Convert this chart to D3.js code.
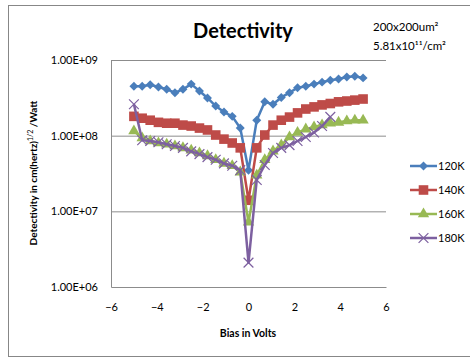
<!DOCTYPE html>
<html>
<head>
<meta charset="utf-8">
<script src="https://cdn.jsdelivr.net/npm/d3@7"></script>
<style>
	body { margin: 0; background: #fff; }
	#chart { width: 470px; height: 358px; }
	text { font-family: Lato, "Open Sans", sans-serif; fill: #000; }
</style>
</head>
<body>
<div id="chart"></div>
<script>
// bias voltage steps (V)
const bias = [-5, -4.64, -4.29, -3.93, -3.57, -3.21, -2.86, -2.5, -2.14, -1.79, -1.43, -1.07, -0.71, -0.36, 0,
	0.36, 0.71, 1.07, 1.43, 1.79, 2.14, 2.5, 2.86, 3.21, 3.57, 3.93, 4.29, 4.64, 5];

const d120 = [4.5e8, 4.5e8, 4.7e8, 4.4e8, 4.1e8, 3.7e8, 4.1e8, 4.8e8, 3.9e8, 3.15e8, 2.46e8, 2.05e8, 1.8e8, 1.26e8, 3.5e7,
	1.6e8, 2.8e8, 2.6e8, 3.2e8, 3.7e8, 4.3e8, 4.5e8, 4.8e8, 5.1e8, 5.4e8, 5.6e8, 5.95e8, 6.1e8, 5.8e8];
const d140 = [1.8e8, 1.7e8, 1.6e8, 1.5e8, 1.46e8, 1.46e8, 1.38e8, 1.34e8, 1.26e8, 1.19e8, 1.02e8, 9.0e7, 8.0e7, 6.9e7, 1.4e7,
	6.9e7, 1.02e8, 1.38e8, 1.6e8, 1.76e8, 2.0e8, 2.25e8, 2.4e8, 2.55e8, 2.66e8, 2.8e8, 2.87e8, 2.95e8, 3.05e8];
const d160 = [1.15e8, 9.3e7, 8.5e7, 8.0e7, 7.7e7, 7.3e7, 6.9e7, 6.4e7, 5.9e7, 5.4e7, 4.8e7, 4.3e7, 4.0e7, 3.3e7, 7.2e6,
	3.0e7, 4.8e7, 6.25e7, 7.5e7, 9.6e7, 1.1e8, 1.22e8, 1.3e8, 1.38e8, 1.46e8, 1.5e8, 1.56e8, 1.6e8, 1.6e8];
const d180 = [2.6e8, 8.7e7, 8.5e7, 8.2e7, 7.7e7, 7.3e7, 6.9e7, 6.2e7, 5.7e7, 5.2e7, 4.8e7, 4.3e7, 4.0e7, 3.5e7, 2.1e6,
	2.6e7, 4.1e7, 5.9e7, 6.9e7, 7.5e7, 8.5e7, 9.6e7, 1.1e8, 1.34e8, 1.77e8];

const seriesNames = ['120K', '140K', '160K', '180K'];
const yTicks = [1e6, 1e7, 1e8, 1e9];
const yTickLabels = ['1.00E+06', '1.00E+07', '1.00E+08', '1.00E+09'];
const xTicks = [-6, -4, -2, 0, 2, 4, 6];

class DetectivityChart {
	constructor({ element, series }) {
		this.element = element;
		this.series = series;
		this.draw();
	}

	draw() {
		this.width = 470;
		this.height = 358;
		this.margin = { top: 60, right: 84, bottom: 71, left: 111 };

		this.element.innerHTML = '';
		this.svg = d3.select(this.element).append('svg')
			.attr('width', this.width)
			.attr('height', this.height);

		// outer chart frame
		this.svg.append('rect')
			.attr('x', 8.5).attr('y', 5.5)
			.attr('width', 470).attr('height', 351)
			.attr('fill', 'none')
			.attr('stroke', '#878787');

		this.innerW = this.width - this.margin.left - this.margin.right;
		this.innerH = this.height - this.margin.top - this.margin.bottom;

		this.plot = this.svg.append('g')
			.attr('transform', `translate(${this.margin.left},${this.margin.top})`);

		this.createScales();
		this.addAxes();
		this.addLines();
		this.addLegend();
		this.addTexts();
	}

	createScales() {
		this.xScale = d3.scaleLinear().domain([-6, 6]).range([0, this.innerW]);
		this.yScale = d3.scaleLog().domain([1e6, 1e9]).range([this.innerH, 0]);
	}

	addAxes() {
		const grid = d3.axisLeft(this.yScale)
			.tickValues(yTicks.slice(1))
			.tickSize(-this.innerW)
			.tickFormat('');
		const g = this.plot.append('g').attr('class', 'grid').call(grid);
		g.select('.domain').remove();
		g.selectAll('line').attr('stroke', '#8c8c8c');

		const yAxis = d3.axisLeft(this.yScale)
			.tickValues(yTicks)
			.tickSize(0)
			.tickPadding(13)
			.tickFormat((d, i) => yTickLabels[i]);
		const ya = this.plot.append('g').attr('class', 'y axis').call(yAxis);
		ya.select('.domain').attr('stroke', '#8c8c8c');
		ya.selectAll('text').style('font-size', '11px').attr('fill', '#000');

		const xAxis = d3.axisBottom(this.xScale)
			.tickValues(xTicks)
			.tickSize(0)
			.tickPadding(16)
			.tickFormat(d3.format('d'));
		const xa = this.plot.append('g')
			.attr('class', 'x axis')
			.attr('transform', `translate(0,${this.innerH})`)
			.call(xAxis);
		xa.select('.domain').attr('stroke', '#8c8c8c');
		xa.selectAll('text').style('font-size', '11px').attr('fill', '#000');
	}

	marker(shape) {
		if (shape === 'diamond') return d3.symbol(d3.symbolSquare, 40)();
		if (shape === 'square') return d3.symbol(d3.symbolSquare, 92)();
		if (shape === 'triangle') return d3.symbol(d3.symbolTriangle, 56)();
		return d3.symbol(d3.symbolTimes || d3.symbolX || d3.symbolCross, 64)();
	}

	addLines() {
		const line = d3.line()
			.x((d) => this.xScale(d.x))
			.y((d) => this.yScale(d.y));

		this.series.forEach((s) => {
			const pts = s.values.map((v, i) => ({ x: bias[i], y: v }));
			const g = this.plot.append('g');
			g.append('path')
				.datum(pts)
				.attr('d', line)
				.attr('fill', 'none')
				.attr('stroke', s.color)
				.attr('stroke-width', 2.5)
				.attr('stroke-linejoin', 'round');

			g.selectAll('path.mk')
				.data(pts)
				.join('path')
				.attr('class', 'mk')
				.attr('d', this.marker(s.shape))
				.attr('transform', (d) => `translate(${this.xScale(d.x)},${this.yScale(d.y)})` +
					(s.shape === 'diamond' ? ' rotate(45)' : ''))
				.attr('fill', s.shape === 'x' ? 'none' : s.color)
				.attr('stroke', s.shape === 'x' ? s.color : 'none')
				.attr('stroke-width', 1.2);
		});
	}

	addLegend() {
		const legend = this.svg.append('g').attr('transform', 'translate(410,166)');
		this.series.forEach((s, i) => {
			const row = legend.append('g').attr('transform', `translate(0,${i * 24})`);
			row.append('line')
				.attr('x1', 0).attr('x2', 27)
				.attr('stroke', s.color)
				.attr('stroke-width', 2.5);
			row.append('path')
				.attr('d', this.marker(s.shape))
				.attr('transform', 'translate(13.5,0)' + (s.shape === 'diamond' ? ' rotate(45)' : ''))
				.attr('fill', s.shape === 'x' ? 'none' : s.color)
				.attr('stroke', s.shape === 'x' ? s.color : 'none')
				.attr('stroke-width', 1.2);
			row.append('text')
				.attr('x', 28).attr('y', 4)
				.style('font-size', '11px')
				.text(s.name);
		});
	}

	addTexts() {
		this.svg.append('text')
			.attr('x', 243).attr('y', 38)
			.attr('text-anchor', 'middle')
			.style('font-size', '20px')
			.style('font-weight', 'bold')
			.text('Detectivity');

		this.svg.append('text')
			.attr('x', 373).attr('y', 31)
			.style('font-size', '11.5px')
			.text('200x200um²');
		this.svg.append('text')
			.attr('x', 373).attr('y', 50)
			.style('font-size', '11.5px')
			.text('5.81x10¹¹/cm²');

		this.svg.append('text')
			.attr('x', 248).attr('y', 337)
			.attr('text-anchor', 'middle')
			.style('font-size', '10.5px')
			.style('font-weight', 'bold')
			.text('Bias in Volts');

		const yl = this.svg.append('text')
			.attr('transform', 'translate(37,173) rotate(-90)')
			.attr('text-anchor', 'middle')
			.style('font-size', '10px')
			.style('font-weight', 'bold');
		yl.append('tspan').text('Detectivity in cm(hertz)');
		yl.append('tspan').attr('dy', -4).style('font-size', '7px').style('font-weight', 'normal').text('1/2');
		yl.append('tspan').attr('dy', 4).text(' /Watt');
	}
}

new DetectivityChart({
	element: document.getElementById('chart'),
	series: [
		{ name: seriesNames[0], values: d120, color: '#4a7ebb', shape: 'diamond' },
		{ name: seriesNames[1], values: d140, color: '#be4b48', shape: 'square' },
		{ name: seriesNames[2], values: d160, color: '#98b954', shape: 'triangle' },
		{ name: seriesNames[3], values: d180, color: '#7d60a0', shape: 'x' },
	],
});
</script>
</body>
</html>
